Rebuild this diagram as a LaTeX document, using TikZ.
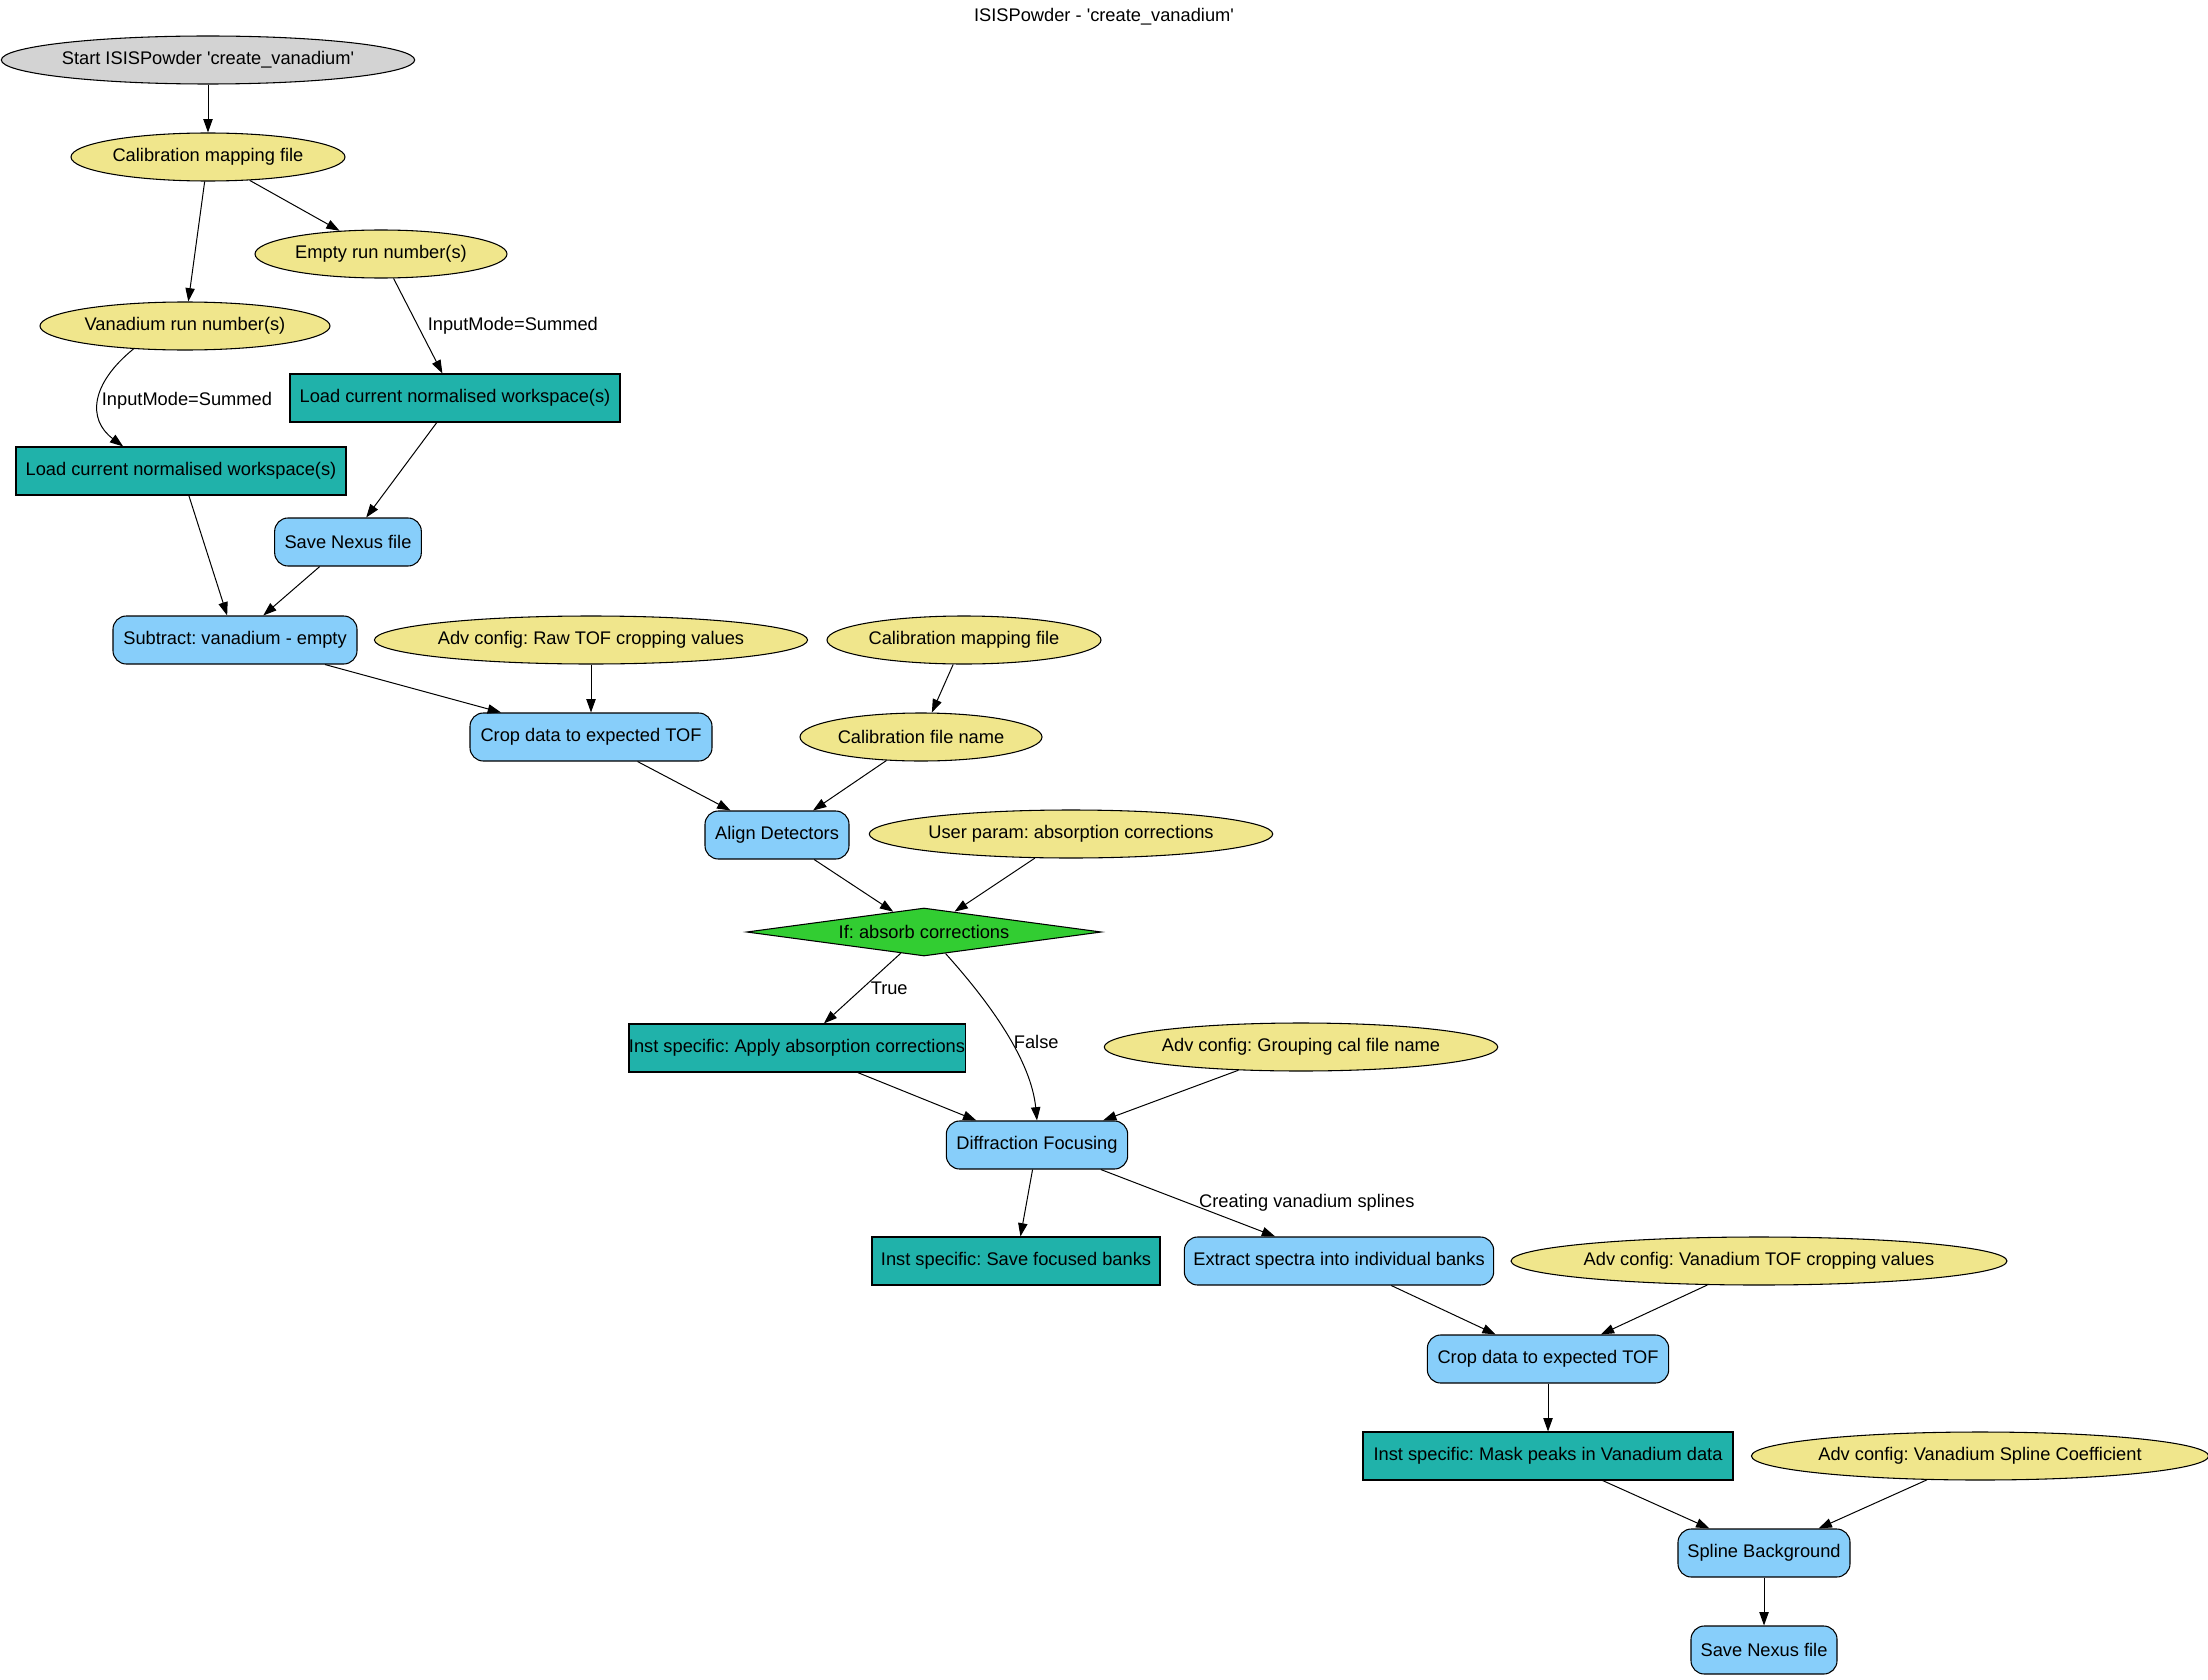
\documentclass[tikz,border=0pt]{standalone}
\usepackage{fontspec}
\setmainfont{Liberation Sans}
\usetikzlibrary{shapes.geometric, arrows.meta, positioning}

\definecolor{VANgray}{HTML}{D3D3D3}
\definecolor{VANkhaki}{HTML}{F0E68C}
\definecolor{VANsky}{HTML}{87CEFA}
\definecolor{VANteal}{HTML}{20B2AA}
\definecolor{VANlime}{HTML}{32CD32}

\newcommand{\sqt}{\textquotesingle}
\frenchspacing

\tikzset{
   base/.style={draw, line width=0.8pt, font=\fontsize{13.7pt}{16pt}\selectfont,
      inner sep=0pt, minimum height=36pt},
   startnode/.style={base, ellipse, fill=VANgray},
   param/.style={base, ellipse, fill=VANkhaki},
   algo/.style={base, rectangle, rounded corners=10pt, fill=VANsky},
   inst/.style={base, rectangle, fill=VANteal},
   decision/.style={base, diamond, aspect=7.4, fill=VANlime},
   flow/.style={-{Triangle[length=10pt,width=7pt]}, line width=0.75pt},
   lbl/.style={font=\fontsize{13.7pt}{16pt}\selectfont, inner sep=2pt}
}

\begin{document}
\begin{tikzpicture}[x=0.75pt, y=0.75pt]
            \useasboundingbox (0,0) rectangle (2208,-1680);
            % Title
            \node[lbl] (title) at (1104,-17) {ISISPowder - \sqt create\_vanadium\sqt};
            % Start and inputs
            \node[startnode, minimum width=304.5pt] (start) at (208,-60) {Start ISISPowder \sqt create\_vanadium\sqt};
            \node[param, minimum width=205.5pt] (calmapA) at (208,-157) {Calibration mapping file};
            \node[param, minimum width=189pt] (emptyrun) at (381,-254) {Empty run number(s)};
            \node[param, minimum width=217.5pt] (vanrun) at (185,-326) {Vanadium run number(s)};
            % Loading
            \node[inst, minimum width=247.5pt] (loadE) at (455,-398) {Load current normalised workspace(s)};
            \node[inst, minimum width=247.5pt] (loadV) at (181,-471) {Load current normalised workspace(s)};
            \node[algo, minimum width=110pt] (saveA) at (348,-542) {Save Nexus file};
            \node[algo, minimum width=183pt] (subtract) at (235,-640) {Subtract: vanadium - empty};
            % Cropping and alignment
            \node[param, minimum width=316.5pt] (rawtof) at (591,-640) {Adv config: Raw TOF cropping values};
            \node[param, minimum width=205.5pt] (calmapB) at (964,-640) {Calibration mapping file};
            \node[algo, minimum width=181.5pt] (cropA) at (591,-737) {Crop data to expected TOF};
            \node[param, minimum width=181.5pt] (calname) at (921,-737) {Calibration file name};
            \node[algo, minimum width=108pt] (align) at (777,-835) {Align Detectors};
            \node[param, minimum width=297pt] (userabs) at (1071,-834) {User param: absorption corrections};
            \node[decision, minimum width=266pt] (ifabs) at (924,-932) {If: absorb corrections};
            % Focusing
            \node[inst, minimum width=243pt] (applyabs) at (797,-1048) {Inst specific: Apply absorption corrections};
            \node[param, minimum width=289.5pt] (grouping) at (1301,-1047) {Adv config: Grouping cal file name};
            \node[algo, minimum width=136pt] (focus) at (1037,-1145) {Diffraction Focusing};
            \node[inst, minimum width=216pt] (savefoc) at (1016,-1261) {Inst specific: Save focused banks};
            \node[algo, minimum width=232pt] (extract) at (1339,-1261) {Extract spectra into individual banks};
            % Splines
            \node[param, minimum width=361.5pt] (vantof) at (1759,-1261) {Adv config: Vanadium TOF cropping values};
            \node[algo, minimum width=181pt] (cropB) at (1548,-1359) {Crop data to expected TOF};
            \node[inst, minimum width=277.5pt] (mask) at (1548,-1456) {Inst specific: Mask peaks in Vanadium data};
            \node[param, minimum width=333pt] (splcoef) at (1980,-1456) {Adv config: Vanadium Spline Coefficient};
            \node[algo, minimum width=129pt] (spline) at (1764,-1553) {Spline Background};
            \node[algo, minimum width=109.5pt] (saveB) at (1764,-1650) {Save Nexus file};
            % Edges
            \draw[flow] (start) -- (calmapA);
            \draw[flow] (calmapA) -- (emptyrun);
            \draw[flow] (calmapA) -- (vanrun);
            \draw[flow] (emptyrun) -- node[lbl, right=5pt] {InputMode=Summed} (loadE);
            \draw[flow] (vanrun.204) .. controls +(-43,-35) and +(-36,27) ..
               node[lbl, right, pos=0.5] {InputMode=Summed} (loadV.157);
            \draw[flow] (loadE) -- (saveA);
            \draw[flow] (loadV) -- (subtract);
            \draw[flow] (saveA) -- (subtract);
            \draw[flow] (subtract) -- (cropA);
            \draw[flow] (rawtof) -- (cropA);
            \draw[flow] (calmapB) -- (calname);
            \draw[flow] (cropA) -- (align);
            \draw[flow] (calname) -- (align);
            \draw[flow] (align) -- (ifabs);
            \draw[flow] (userabs) -- (ifabs);
            \draw[flow] (ifabs) -- node[lbl, right=4pt] {True} (applyabs);
            \draw[flow] (ifabs.-45) .. controls +(45,-50) and +(-6,60) ..
               node[lbl, right, pos=0.55] {False} (focus.north);
            \draw[flow] (applyabs) -- (focus);
            \draw[flow] (grouping) -- (focus);
            \draw[flow] (focus) -- (savefoc);
            \draw[flow] (focus) -- node[lbl, right=6pt] {Creating vanadium splines} (extract);
            \draw[flow] (extract) -- (cropB);
            \draw[flow] (vantof) -- (cropB);
            \draw[flow] (cropB) -- (mask);
            \draw[flow] (mask) -- (spline);
            \draw[flow] (splcoef) -- (spline);
            \draw[flow] (spline) -- (saveB);
\end{tikzpicture}
\end{document}
